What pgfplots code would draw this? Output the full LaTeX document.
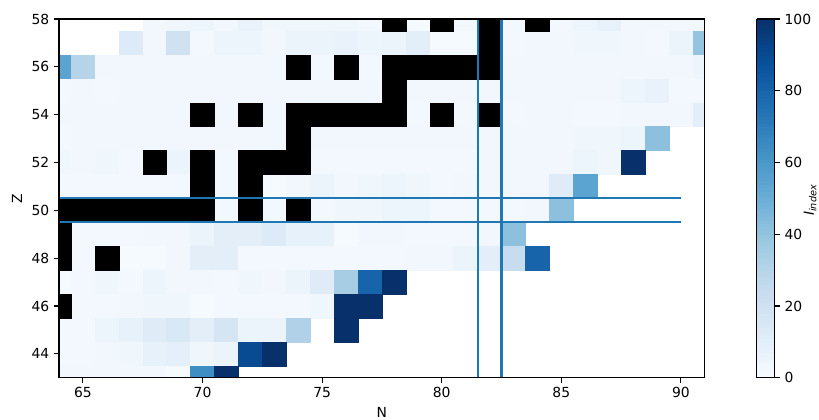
\documentclass[border=0pt]{standalone}
\usepackage{fontspec}
\setmainfont{DejaVu Sans}
\usepackage{pgfplots}
\usepackage{pgfplotstable}
\pgfplotsset{compat=1.18}

\definecolor{mplblue}{HTML}{1F77B4}
\pgfplotsset{
  colormap={blues}{rgb255=(247,251,255) rgb255=(222,235,247) rgb255=(198,219,239)
    rgb255=(158,202,225) rgb255=(107,174,214) rgb255=(66,146,198)
    rgb255=(33,113,181) rgb255=(8,81,156) rgb255=(8,48,107)},
}
% one heatmap cell = 1 x 1 axis units
\pgfdeclareplotmark{cell}{%
  \pgfpathrectangle{\pgfpoint{-8.61pt}{-8.61pt}}{\pgfpoint{17.22pt}{17.22pt}}%
  \pgfusepathqfillstroke}

% coloured cells (N, Z, index)
\pgfplotstableread{
N Z v
68 58 3
69 58 4
70 58 5
71 58 3
72 58 7
73 58 4
74 58 4
75 58 4
76 58 4
77 58 2
79 58 1
81 58 2
83 58 2
85 58 2
86 58 5
87 58 8
88 58 3
89 58 3
90 58 3
91 58 3
67 57 13
68 57 3
69 57 20
70 57 2
71 57 5
72 57 5
73 57 3
74 57 6
75 57 6
76 57 7
77 57 5
78 57 6
79 57 10
80 57 1
81 57 1
83 57 2
84 57 3
85 57 3
86 57 4
87 57 4
88 57 3
89 57 2
90 57 6
91 57 40
64 56 55
65 56 30
66 56 3
67 56 3
68 56 3
69 56 3
70 56 3
71 56 3
72 56 3
73 56 3
75 56 2
77 56 2
83 56 3
84 56 3
85 56 3
86 56 3
87 56 3
88 56 3
89 56 3
90 56 3
91 56 5
64 55 2
65 55 3
66 55 2
67 55 3
68 55 3
69 55 3
70 55 3
71 55 3
72 55 3
73 55 3
74 55 3
75 55 3
76 55 3
77 55 3
79 55 3
80 55 3
81 55 3
82 55 3
83 55 3
84 55 3
85 55 3
86 55 3
87 55 3
88 55 5
89 55 7
90 55 2
91 55 2
64 54 3
65 54 3
66 54 3
67 54 3
68 54 3
69 54 3
71 54 3
73 54 3
79 54 2
81 54 2
83 54 2
84 54 3
85 54 3
86 54 2
87 54 2
88 54 3
89 54 3
90 54 3
91 54 10
64 53 2
65 53 3
66 53 3
67 53 3
68 53 3
69 53 3
70 53 3
71 53 3
72 53 3
73 53 3
75 53 3
76 53 3
77 53 3
78 53 3
79 53 3
80 53 3
81 53 3
82 53 3
83 53 3
84 53 3
85 53 3
86 53 4
87 53 4
88 53 5
89 53 42
64 52 4
65 52 3
66 52 4
67 52 2
69 52 6
71 52 2
75 52 2
76 52 2
77 52 2
78 52 2
79 52 2
80 52 2
81 52 2
82 52 3
83 52 3
84 52 3
85 52 3
86 52 5
87 52 4
88 52 100
64 51 2
65 51 2
66 51 2
67 51 2
68 51 2
69 51 2
71 51 2
73 51 1
74 51 3
75 51 6
76 51 3
77 51 4
78 51 5
79 51 4
80 51 2
81 51 3
82 51 3
83 51 3
84 51 3
85 51 12
86 51 55
71 50 2
73 50 2
75 50 2
76 50 4
77 50 4
78 50 5
79 50 5
80 50 2
81 50 2
82 50 2
83 50 2
84 50 3
85 50 42
65 49 2
66 49 2
67 49 2
68 49 3
69 49 3
70 49 6
71 49 10
72 49 10
73 49 13
74 49 8
75 49 8
76 49 1
77 49 3
78 49 3
79 49 2
80 49 2
81 49 2
82 49 3
83 49 42
65 48 2
67 48 1
68 48 1
69 48 3
70 48 10
71 48 10
72 48 2
73 48 2
74 48 2
75 48 2
76 48 2
77 48 2
78 48 2
79 48 3
80 48 3
81 48 6
82 48 10
83 48 24
84 48 80
64 47 1
65 47 2
66 47 4
67 47 2
68 47 5
69 47 3
70 47 3
71 47 2
72 47 4
73 47 3
74 47 6
75 47 12
76 47 35
77 47 80
78 47 100
65 46 2
66 46 2
67 46 3
68 46 4
69 46 4
70 46 1
71 46 2
72 46 2
73 46 2
74 46 2
75 46 4
76 46 100
77 46 100
64 45 2
65 45 2
66 45 5
67 45 8
68 45 12
69 45 15
70 45 10
71 45 17
72 45 6
73 45 6
74 45 32
76 45 100
64 44 2
65 44 2
66 44 3
67 44 4
68 44 8
69 44 9
70 44 4
71 44 6
72 44 90
73 44 100
64 43 3
65 43 3
66 43 3
67 43 3
68 43 3
69 43 1
70 43 64
71 43 100
}\heat

% black cells
\pgfplotstableread{
N Z
78 58
80 58
82 58
84 58
82 57
74 56
76 56
78 56
79 56
80 56
81 56
82 56
78 55
70 54
72 54
74 54
75 54
76 54
77 54
78 54
80 54
82 54
74 53
68 52
70 52
72 52
73 52
74 52
70 51
72 51
64 50
65 50
66 50
67 50
68 50
69 50
70 50
72 50
74 50
64 49
64 48
66 48
64 46
}\blk

\begin{document}
\begin{tikzpicture}
% page frame as in the reference (axis box starts at the origin)
\useasboundingbox (-42.5pt,-29.7pt) rectangle (547.2pt,272pt);
\begin{axis}[
  x=17.22pt, y=17.22pt,
  xmin=64, xmax=91, ymin=43, ymax=58,
  xtick={65,70,...,90}, ytick={44,46,...,58},
  xlabel={N}, ylabel={Z},
  tick align=outside, tick pos=left,
  major tick length=3.5pt,
  every tick/.style={black, line width=0.8pt},
  axis line style={line width=0.8pt},
  axis on top,
  clip marker paths=true,
  /pgf/number format/assume math mode=true,
  colormap name=blues,
  point meta min=0, point meta max=100,
  colorbar sampled,
  colorbar style={
    samples=101,
    width=12.96pt,
    at={(parent axis.north east)}, anchor=north west, xshift=29pt,
    ytick={0,20,...,100},
    ytick pos=right, tick align=outside,
    major tick length=3.5pt,
    every tick/.style={black, line width=0.8pt},
    axis line style={line width=0.8pt},
    /pgf/number format/assume math mode=true,
  },
]
\addplot[scatter, only marks, mark=cell, scatter src=explicit,
  scatter/use mapped color={draw=mapped color, fill=mapped color},
  mark options={line width=0.3pt}]
  table[x=N, y=Z, meta=v] {\heat};
\addplot[only marks, mark=cell, mark options={fill=black, draw=black, line width=0.3pt}]
  table[x=N, y=Z] {\blk};

\addplot[mplblue, line width=1.5pt] coordinates {(63,49.5) (90,49.5)};
\addplot[mplblue, line width=1.5pt] coordinates {(63,50.5) (90,50.5)};
\addplot[mplblue, line width=1.5pt] coordinates {(81.5,42) (81.5,59)};
\addplot[mplblue, line width=1.5pt] coordinates {(82.5,42) (82.5,59)};
\end{axis}
% colour bar label
\node[rotate=90, anchor=base, inner sep=0pt] at (543.5pt,128pt)
  {\textit{I}\textsubscript{\textit{index}}};
\end{tikzpicture}
\end{document}
